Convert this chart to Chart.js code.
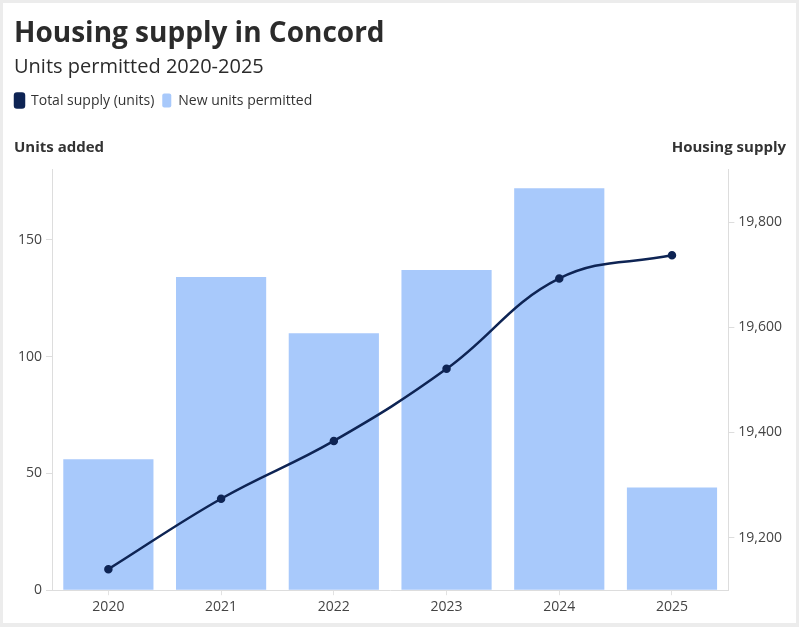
<!DOCTYPE html>
<html>
<head>
<meta charset="utf-8">
<script src="https://cdn.jsdelivr.net/npm/chart.js@4"></script>
<style>
  html, body { margin: 0; padding: 0; background: #ececec; }
  #frame { position: absolute; left: 3px; top: 3px; width: 793px; height: 620px; background: #fff; }
</style>
</head>
<body>
<div id="frame"><canvas id="housingChart" width="793" height="620"></canvas></div>
<script>
const years = ['2020', '2021', '2022', '2023', '2024', '2025'];
const unitsPermitted = [56, 134, 110, 137, 172, 44];
const totalSupply = [19140, 19274, 19384, 19521, 19693, 19737];
const leftTicks = [0, 50, 100, 150];
const rightTicks = [19200, 19400, 19600, 19800];

const fontFamily = "'Open Sans', sans-serif";

// draws "Units added" / "Housing supply" above the two value axes
const axisTitles = {
    id: 'axisTitles',
    beforeInit(chart) {
        // leave room under the legend for the axis titles
        const origFit = chart.legend.fit;
        chart.legend.fit = function () {
            origFit.bind(chart.legend)();
            this.height += 52;
        };
    },
    afterLayout(chart) {
        // line the legend up with the title
        chart.legend.left -= 7;
        chart.legend.right -= 7;
    },
    afterDraw(chart) {
        const ctx = chart.ctx;
        const top = chart.chartArea.top;
        ctx.save();
        ctx.font = "bold 15px " + fontFamily;
        ctx.fillStyle = '#333';
        ctx.textBaseline = 'middle';
        ctx.textAlign = 'left';
        ctx.fillText('Units added', 11, top - 22);
        ctx.textAlign = 'right';
        ctx.fillText('Housing supply', chart.width - 10, top - 22);
        ctx.restore();
    }
};

const ctx = document.getElementById('housingChart').getContext('2d');
const housingChart = new Chart(ctx, {
    type: 'bar',
    data: {
        labels: years,
        datasets: [
            {
                type: 'line',
                label: 'Total supply (units)',
                data: totalSupply,
                yAxisID: 'y1',
                borderColor: '#0e2454',
                backgroundColor: '#0e2454',
                borderWidth: 2.5,
                tension: 0.4,
                pointRadius: 3,
                pointHoverRadius: 4,
                order: 0
            },
            {
                label: 'New units permitted',
                data: unitsPermitted,
                yAxisID: 'y',
                backgroundColor: '#a8c9fb',
                barPercentage: 0.8,
                categoryPercentage: 1.0,
                order: 1
            }
        ]
    },
    options: {
        responsive: false,
        animation: false,
        layout: { padding: { left: 11, right: 10, bottom: 5, top: 4 } },
        plugins: {
            title: {
                display: true,
                text: 'Housing supply in Concord',
                align: 'start',
                color: '#2b2b2b',
                font: { family: fontFamily, size: 28, weight: 'bold' },
                padding: { top: 10, bottom: 5 }
            },
            subtitle: {
                display: true,
                text: 'Units permitted 2020-2025',
                align: 'start',
                color: '#2b2b2b',
                font: { family: fontFamily, size: 20 },
                padding: { bottom: 6 }
            },
            legend: {
                align: 'start',
                labels: {
                    color: '#333',
                    font: { family: fontFamily, size: 14 },
                    boxWidth: 9,
                    boxHeight: 14,
                    useBorderRadius: true,
                    borderRadius: 2,
                    padding: 8
                }
            },
            tooltip: { enabled: false }
        },
        scales: {
            x: {
                grid: { drawOnChartArea: false, offset: false, color: '#e2e2e2', tickLength: 5 },
                border: { color: '#ddd' },
                ticks: { color: '#444', font: { family: fontFamily, size: 14 } }
            },
            y: {
                position: 'left',
                min: 0,
                max: 180,
                afterBuildTicks: scale => { scale.ticks = leftTicks.map(v => ({ value: v })); },
                grid: { drawOnChartArea: false, color: '#ddd', tickLength: 6 },
                border: { color: '#ddd' },
                ticks: { color: '#444', font: { family: fontFamily, size: 14 }, padding: 4 }
            },
            y1: {
                position: 'right',
                min: 19100,
                max: 19900,
                afterBuildTicks: scale => { scale.ticks = rightTicks.map(v => ({ value: v })); },
                grid: { drawOnChartArea: false, color: '#ddd', tickLength: 6 },
                border: { color: '#ddd' },
                ticks: {
                    color: '#444',
                    font: { family: fontFamily, size: 14 },
                    padding: 4,
                    callback: v => v.toLocaleString('en-US')
                }
            }
        }
    },
    plugins: [axisTitles]
});
</script>
</body>
</html>
